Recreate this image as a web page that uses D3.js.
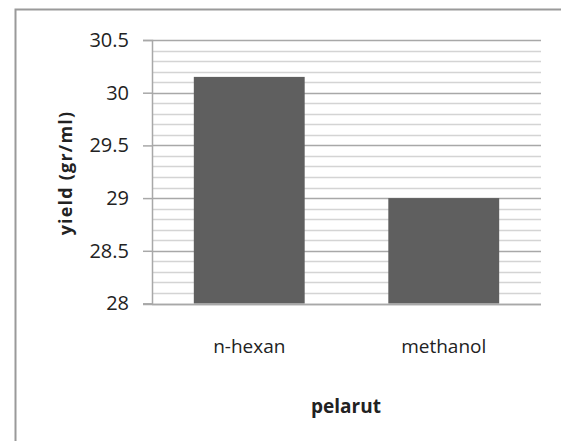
<!DOCTYPE html>
<html>
<head>
<meta charset="utf-8">
<script src="https://cdn.jsdelivr.net/npm/d3@7"></script>
<style>
  html, body { margin: 0; padding: 0; background: #fff; }
  svg { display: block; }
  text { font-family: "Open Sans", "Noto Sans", sans-serif; fill: #222; }
</style>
</head>
<body>
<svg id="chart" width="561" height="441"></svg>
<script>
// Solvent categories and extraction yield
const categories = ["n-hexan", "methanol"];
const yieldValues = [30.15, 29.0];
const yTicks = [28, 28.5, 29, 29.5, 30, 30.5];
const yTickLabels = ["28", "28.5", "29", "29.5", "30", "30.5"];
const minorTicks = d3.range(28, 30.51, 0.1).map(v => +v.toFixed(1));

const svg = d3.select("#chart");
const margin = { left: 152, right: 20, top: 40, bottom: 138 };
const plotRight = 541;

// outer frame
svg.append("path")
  .attr("d", `M15.5,441 V9.5 H561`)
  .attr("fill", "none")
  .attr("stroke", "#9a9a9a")
  .attr("stroke-width", 2);

const x = d3.scaleBand()
  .domain(categories)
  .range([margin.left, plotRight])
  .paddingInner(0.43)
  .paddingOuter(0.215);

const y = d3.scaleLinear()
  .domain([28, 30.5])
  .range([303.5, 40]);

// minor gridlines
svg.append("g")
  .selectAll("line")
  .data(minorTicks.filter(v => !yTicks.some(t => Math.abs(t - v) < 1e-6)))
  .join("line")
  .attr("x1", margin.left)
  .attr("x2", plotRight)
  .attr("y1", d => Math.round(y(d)) + 0.5)
  .attr("y2", d => Math.round(y(d)) + 0.5)
  .attr("stroke", "#d4d4d4")
  .attr("stroke-width", 1.5);

// major gridlines
svg.append("g")
  .selectAll("line")
  .data(yTicks)
  .join("line")
  .attr("x1", margin.left)
  .attr("x2", plotRight)
  .attr("y1", d => Math.round(y(d)) + 0.5)
  .attr("y2", d => Math.round(y(d)) + 0.5)
  .attr("stroke", "#a8a8a8")
  .attr("stroke-width", 1.5);

// y axis
const yAxis = d3.axisLeft(y)
  .tickValues(yTicks)
  .tickFormat((d, i) => yTickLabels[i])
  .tickSize(9)
  .tickPadding(14);
const gy = svg.append("g")
  .attr("transform", `translate(${margin.left},0)`)
  .call(yAxis);
gy.select(".domain").attr("stroke", "#a8a8a8").attr("stroke-width", 1.5);
gy.selectAll(".tick line").attr("stroke", "#a8a8a8").attr("stroke-width", 1.5);
gy.selectAll(".tick text")
  .style("font-family", "'Open Sans', sans-serif")
  .style("font-size", "20px")
  .attr("fill", "#333");

// bars
svg.append("g")
  .selectAll("rect")
  .data(categories)
  .join("rect")
  .attr("x", d => x(d))
  .attr("width", x.bandwidth())
  .attr("y", (d, i) => y(yieldValues[i]))
  .attr("height", (d, i) => y(28) - y(yieldValues[i]))
  .attr("fill", "#5f5f5f");

// x axis
const xAxis = d3.axisBottom(x).tickSize(0).tickPadding(35);
const gx = svg.append("g")
  .attr("transform", `translate(0,${Math.round(y(28)) + 0.5})`)
  .call(xAxis);
gx.select(".domain").attr("stroke", "#a8a8a8").attr("stroke-width", 1.5)
  .attr("d", `M${margin.left - 9},0H${plotRight}`);
gx.selectAll(".tick text")
  .style("font-family", "'Open Sans', sans-serif")
  .style("font-size", "19px")
  .attr("fill", "#333");

// axis titles
svg.append("text")
  .attr("x", 346)
  .attr("y", 413)
  .attr("text-anchor", "middle")
  .style("font-size", "19px")
  .style("font-weight", "bold")
  .text("pelarut");

svg.append("text")
  .attr("transform", "translate(72,173) rotate(-90)")
  .attr("text-anchor", "middle")
  .style("font-size", "18px")
  .style("font-weight", "bold")
  .style("letter-spacing", "1.2px")
  .text("yield (gr/ml)");
</script>
</body>
</html>
